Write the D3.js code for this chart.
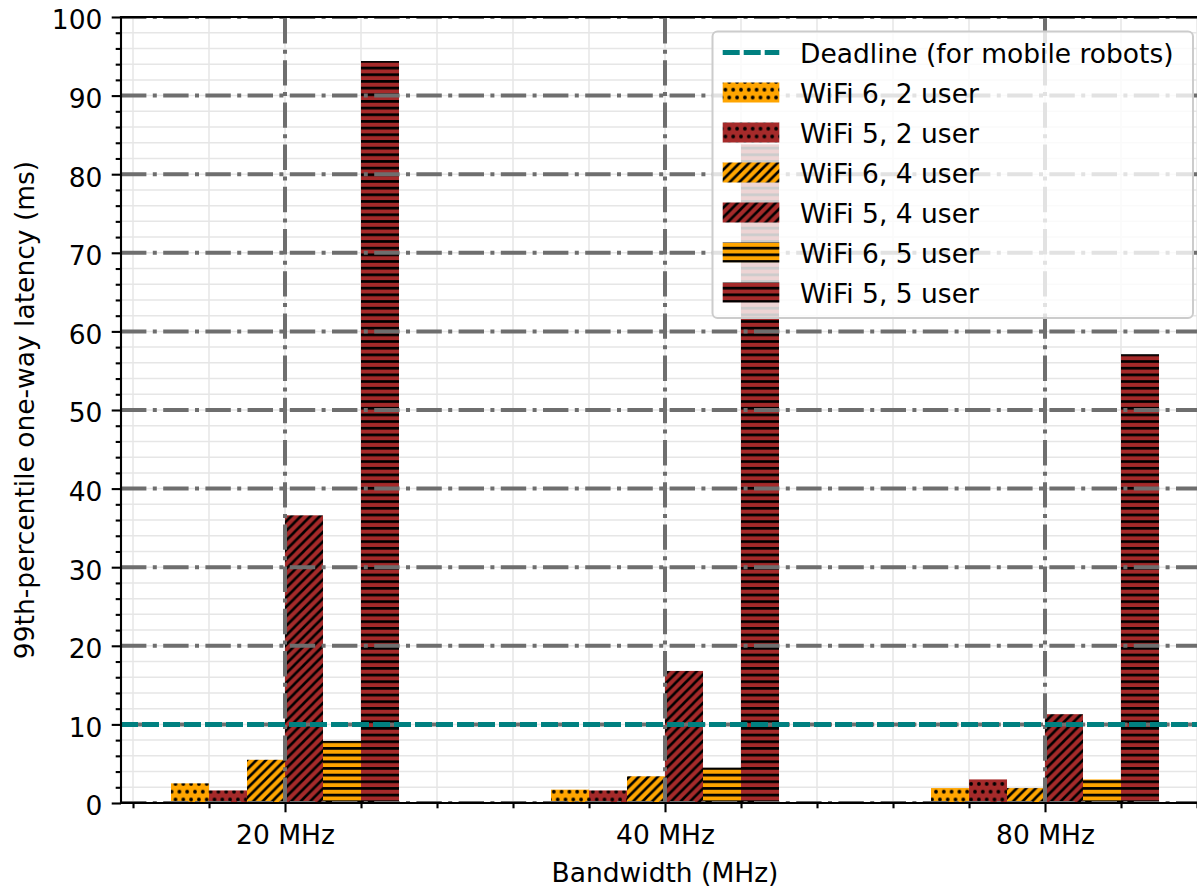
<!DOCTYPE html>
<html><head><meta charset="utf-8">
<script src="https://cdn.jsdelivr.net/npm/d3@7"></script>
<style>
body{margin:0;background:#fff}
svg{display:block}
text{font-family:"DejaVu Sans",sans-serif;fill:#000}
</style>
</head><body>
<svg id="c" width="1197" height="886"></svg>
<script>
// ---------- data ----------
const categories = ["20 MHz", "40 MHz", "80 MHz"];
const seriesLabels = ["WiFi 6, 2 user", "WiFi 5, 2 user", "WiFi 6, 4 user", "WiFi 5, 4 user", "WiFi 6, 5 user", "WiFi 5, 5 user"];
const wifi6_2user = [2.5, 1.7, 1.9];
const wifi5_2user = [1.6, 1.6, 3.0];
const wifi6_4user = [5.5, 3.4, 1.9];
const wifi5_4user = [36.6, 16.8, 11.3];
const wifi6_5user = [7.9, 4.5, 3.0];
const wifi5_5user = [94.4, 83.8, 57.1];
const deadlineValue = 10;
const deadlineLabel = "Deadline (for mobile robots)";
const yTickValues = [0, 10, 20, 30, 40, 50, 60, 70, 80, 90, 100];
const yMinorTickValues = d3.range(0, 101, 2);
const xLabel = "Bandwidth (MHz)";
const yLabel = "99th-percentile one-way latency (ms)";

// ---------- styles ----------
const ORANGE = "#FFA500", BROWN = "#A52A2A", TEAL = "#008080";
const seriesValues = [wifi6_2user, wifi5_2user, wifi6_4user, wifi5_4user, wifi6_5user, wifi5_5user];
const seriesColors = [ORANGE, BROWN, ORANGE, BROWN, ORANGE, BROWN];
const seriesHatch = ["dots", "dots", "diag", "diag", "horiz", "horiz"];
const series = seriesLabels.map((name, i) => ({name, values: seriesValues[i], color: seriesColors[i], hatch: seriesHatch[i], idx: i}));

const FS = 26.5;
const L = 121, T = 17, B = 803, W = 1197;
const svg = d3.select("#c");

const x = d3.scaleLinear().domain([-0.4316, 2.4316]).range([L, L + 2.8632 * 380]);
const y = d3.scaleLinear().domain([0, 100]).range([B, T]);
const barW = 0.1;

// ---------- patterns ----------
const defs = svg.append("defs");
series.forEach(s => {
  const id = "pat" + s.idx;
  if (s.hatch === "dots") {
    const p = 7.8;
    const pat = defs.append("pattern").attr("id", id).attr("patternUnits", "userSpaceOnUse")
      .attr("width", p).attr("height", 2 * p);
    pat.append("rect").attr("width", p).attr("height", 2 * p).attr("fill", s.color);
    [[p/2, p/2], [0, 1.5*p], [p, 1.5*p]].forEach(([cx, cy]) =>
      pat.append("circle").attr("cx", cx).attr("cy", cy).attr("r", 1.9).attr("fill", "#000"));
  } else if (s.hatch === "diag") {
    const p = 9.5;
    const pat = defs.append("pattern").attr("id", id).attr("patternUnits", "userSpaceOnUse")
      .attr("width", p).attr("height", p);
    pat.append("rect").attr("width", p).attr("height", p).attr("fill", s.color);
    pat.append("path").attr("d", `M0,${p} L${p},0 M${-p/2},${p/2} L${p/2},${-p/2} M${p/2},${1.5*p} L${1.5*p},${p/2}`)
      .attr("stroke", "#000").attr("stroke-width", 2.6);
  } else {
    const p = 6.67;
    const pat = defs.append("pattern").attr("id", id).attr("patternUnits", "userSpaceOnUse")
      .attr("width", 10).attr("height", p);
    pat.append("rect").attr("width", 10).attr("height", p).attr("fill", s.color);
    pat.append("rect").attr("y", 0).attr("width", 10).attr("height", 2.7).attr("fill", "#000");
  }
});
defs.append("clipPath").attr("id", "plotclip").append("rect")
  .attr("x", L).attr("y", T).attr("width", W - L).attr("height", B - T);

// ---------- minor grid ----------
const xMinor = d3.range(-2, 13).map(k => k * 0.2);
const gMinor = svg.append("g").attr("clip-path", "url(#plotclip)");
gMinor.selectAll("line.ymin").data(yMinorTickValues).join("line")
  .attr("x1", L).attr("x2", W).attr("y1", d => y(d)).attr("y2", d => y(d))
  .attr("stroke", "#e6e6e6").attr("stroke-width", 1.5);
gMinor.selectAll("line.xmin").data(xMinor).join("line")
  .attr("x1", d => x(d)).attr("x2", d => x(d)).attr("y1", T).attr("y2", B)
  .attr("stroke", "#e6e6e6").attr("stroke-width", 1.5);

// ---------- bars ----------
const gBars = svg.append("g").attr("clip-path", "url(#plotclip)");
series.forEach(s => {
  gBars.selectAll(null).data(s.values).join("rect")
    .attr("x", (d, j) => x(j + (s.idx - 3) * barW))
    .attr("width", x(barW) - x(0))
    .attr("y", d => y(d))
    .attr("height", d => y(0) - y(d))
    .attr("fill", `url(#pat${s.idx})`);
});

// ---------- major grid ----------
const gMajor = svg.append("g").attr("clip-path", "url(#plotclip)");
const dashDot = "25.4,6.4,4,6.4";
gMajor.selectAll("line.ymaj").data(yTickValues).join("line")
  .attr("x1", L).attr("x2", W + 20).attr("y1", d => y(d)).attr("y2", d => y(d))
  .attr("stroke", "#6e6e6e").attr("stroke-width", 4).attr("stroke-dasharray", dashDot);
gMajor.selectAll("line.xmaj").data(categories.map((c, i) => i)).join("line")
  .attr("x1", d => x(d)).attr("x2", d => x(d)).attr("y1", B).attr("y2", T)
  .attr("stroke", "#6e6e6e").attr("stroke-width", 4).attr("stroke-dasharray", dashDot);

// ---------- deadline ----------
svg.append("line").attr("clip-path", "url(#plotclip)")
  .attr("x1", L).attr("x2", W + 20).attr("y1", y(deadlineValue)).attr("y2", y(deadlineValue))
  .attr("stroke", TEAL).attr("stroke-width", 5).attr("stroke-dasharray", "17,4");

// ---------- axes ----------
const yAxis = svg.append("g").attr("transform", `translate(${L},0)`)
  .call(d3.axisLeft(y).tickValues(yTickValues).tickFormat((d, i) => String(yTickValues[i]))
    .tickSize(9.3).tickPadding(9.3).tickSizeOuter(0));
const yAxisMinor = svg.append("g").attr("transform", `translate(${L},0)`)
  .call(d3.axisLeft(y).tickValues(yMinorTickValues.filter(v => v % 10 !== 0)).tickFormat("")
    .tickSize(5.3).tickSizeOuter(0));
const xAxis = svg.append("g").attr("transform", `translate(0,${B})`)
  .call(d3.axisBottom(x).tickValues([0, 1, 2]).tickFormat((d, i) => categories[i])
    .tickSize(9.3).tickPadding(9.3).tickSizeOuter(0));
const xAxisMinor = svg.append("g").attr("transform", `translate(0,${B})`)
  .call(d3.axisBottom(x).tickValues(xMinor.filter(v => Math.abs(v - Math.round(v)) > 1e-6)).tickFormat("")
    .tickSize(5.3).tickSizeOuter(0));
[yAxis, yAxisMinor, xAxis, xAxisMinor].forEach(g => {
  g.select(".domain").remove();
  g.selectAll(".tick line").attr("stroke", "#000").attr("stroke-width", 2.1);
  g.selectAll("text").attr("font-size", FS).attr("font-family", "DejaVu Sans").attr("fill", "#000");
});
yAxis.selectAll("text").attr("dy", "0.45em");
xAxis.selectAll("text").attr("dy", "0.85em");

// spines
svg.append("line").attr("x1", L).attr("x2", L).attr("y1", T).attr("y2", B).attr("stroke", "#000").attr("stroke-width", 2.1).attr("stroke-linecap", "square");
svg.append("line").attr("x1", L).attr("x2", W).attr("y1", B).attr("y2", B).attr("stroke", "#000").attr("stroke-width", 2.1).attr("stroke-linecap", "square");
svg.append("line").attr("x1", L).attr("x2", W).attr("y1", T).attr("y2", T).attr("stroke", "#000").attr("stroke-width", 2.1).attr("stroke-linecap", "square");

// labels
svg.append("text").attr("x", (x(0) + x(2)) / 2).attr("y", 881.5).attr("text-anchor", "middle")
  .attr("font-size", FS).text(xLabel);
svg.append("text").attr("transform", `translate(33.5,${(T + B) / 2}) rotate(-90)`).attr("text-anchor", "middle")
  .attr("font-size", FS).text(yLabel);

// ---------- legend ----------
const lg = svg.append("g");
lg.append("rect").attr("x", 712.5).attr("y", 31.5).attr("width", 480.5).attr("height", 286.5).attr("rx", 5)
  .attr("fill", "#fff").attr("fill-opacity", 0.8).attr("stroke", "#cccccc").attr("stroke-width", 2);
const rowY = k => 52.5 + 40 * k;
const hx = 722.7, hw = 56.6, tx = 800;
lg.append("line").attr("x1", hx).attr("x2", hx + hw).attr("y1", rowY(0)).attr("y2", rowY(0))
  .attr("stroke", TEAL).attr("stroke-width", 5).attr("stroke-dasharray", "17,4");
lg.append("text").attr("x", tx).attr("y", rowY(0) + 10.5).attr("font-size", FS).text(deadlineLabel);
series.forEach((s, i) => {
  const cy = rowY(i + 1);
  lg.append("rect").attr("x", hx).attr("y", cy - 10).attr("width", hw).attr("height", 20)
    .attr("fill", `url(#pat${s.idx})`);
  lg.append("text").attr("x", tx).attr("y", cy + 10.5).attr("font-size", FS).text(s.name);
});
</script>
</body></html>
